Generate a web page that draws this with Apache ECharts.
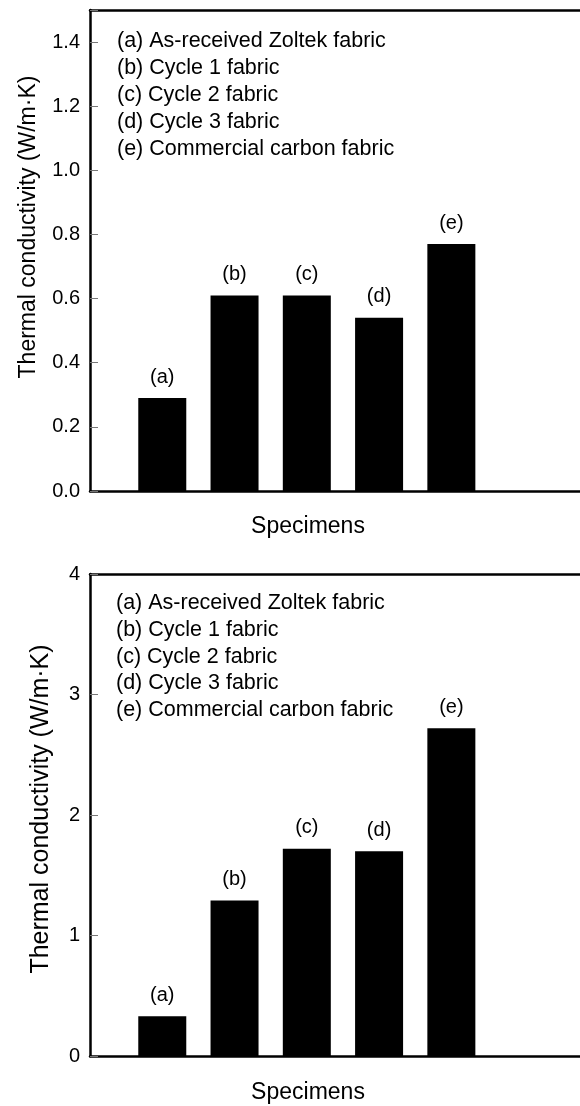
<!DOCTYPE html>
<html>
<head>
<meta charset="utf-8">
<script src="https://cdn.jsdelivr.net/npm/echarts@6/dist/echarts.min.js"></script>
<style>
html,body{margin:0;padding:0;background:#fff;}
#c{width:580px;height:1106px;}
</style>
</head>
<body>
<div id="c"></div>
<script>
// Specimen labels
const specimens = ['(a)', '(b)', '(c)', '(d)', '(e)'];
// Top panel thermal conductivity (W/m·K)
const topValues = [0.29, 0.61, 0.61, 0.54, 0.77];
// Bottom panel thermal conductivity (W/m·K)
const bottomValues = [0.33, 1.29, 1.72, 1.70, 2.72];
// Legend description lines
const legendLines = [
  '(a) As-received Zoltek fabric',
  '(b) Cycle 1 fabric',
  '(c) Cycle 2 fabric',
  '(d) Cycle 3 fabric',
  '(e) Commercial carbon fabric'
];
const yName = 'Thermal conductivity (W/m·K)';
const xName = 'Specimens';

const FONT = "'Liberation Sans', Arial, Helvetica, sans-serif";
const chart = echarts.init(document.getElementById('c'), null, {renderer: 'canvas'});

// specimen slot k sits at x = k+1 on the horizontal scale
function toPoints(vals) {
  return vals.map((v, i) => ({value: [i + 1, v], name: specimens[i]}));
}
function xAxisCfg(gridIndex, position) {
  return {
    type: 'value', gridIndex, min: 0, max: 6.78, position,
    axisLine: {show: true, onZero: false, lineStyle: {color: '#000', width: 2.5}},
    axisTick: {show: false}, axisLabel: {show: false}, splitLine: {show: false}
  };
}
function yAxisCfg(gridIndex, max, interval, fmt) {
  return {
    type: 'value', gridIndex, min: 0, max, interval,
    axisLine: {show: true, lineStyle: {color: '#000', width: 2.5}},
    axisTick: {show: true, inside: true, length: 8, lineStyle: {color: '#777', width: 1}},
    axisLabel: {color: '#000', fontSize: 20, fontFamily: FONT, margin: 10, formatter: fmt},
    splitLine: {show: false}
  };
}
function barSeries(idx, vals) {
  return {
    type: 'bar', xAxisIndex: idx * 2, yAxisIndex: idx, data: toPoints(vals), barWidth: 48,
    itemStyle: {color: '#000'},
    label: {show: true, position: 'top', distance: 11, color: '#000', fontSize: 20, fontFamily: FONT,
      formatter: p => p.name},
    animation: false
  };
}

chart.setOption({
  animation: false,
  backgroundColor: '#fff',
  grid: [
    {left: 90, top: 10, right: 0, height: 481},
    {left: 90, top: 574, right: 0, height: 482}
  ],
  xAxis: [xAxisCfg(0, 'bottom'), xAxisCfg(0, 'top'), xAxisCfg(1, 'bottom'), xAxisCfg(1, 'top')],
  yAxis: [
    yAxisCfg(0, 1.5, 0.2, v => (v > 1.45 ? '' : v.toFixed(1))),
    yAxisCfg(1, 4, 1, v => String(v))
  ],
  series: [barSeries(0, topValues), barSeries(1, bottomValues)],
  graphic: [
    {type: 'text', left: 117, top: 28, silent: true,
      style: {text: legendLines.join('\n'), font: '21.5px ' + FONT, fill: '#000', lineHeight: 26.8}},
    {type: 'text', left: 116, top: 590, silent: true,
      style: {text: legendLines.join('\n'), font: '21.5px ' + FONT, fill: '#000', lineHeight: 26.7}},
    {type: 'text', x: 29, y: 227, rotation: Math.PI / 2, silent: true,
      style: {text: yName, font: '23px ' + FONT, fill: '#000', align: 'center', verticalAlign: 'middle'}},
    {type: 'text', x: 41, y: 809, rotation: Math.PI / 2, silent: true,
      style: {text: yName, font: '25px ' + FONT, fill: '#000', align: 'center', verticalAlign: 'middle'}},
    {type: 'text', x: 308, y: 527, silent: true,
      style: {text: xName, font: '23px ' + FONT, fill: '#000', align: 'center', verticalAlign: 'middle'}},
    {type: 'text', x: 308, y: 1093, silent: true,
      style: {text: xName, font: '23px ' + FONT, fill: '#000', align: 'center', verticalAlign: 'middle'}}
  ]
});
</script>
</body>
</html>
